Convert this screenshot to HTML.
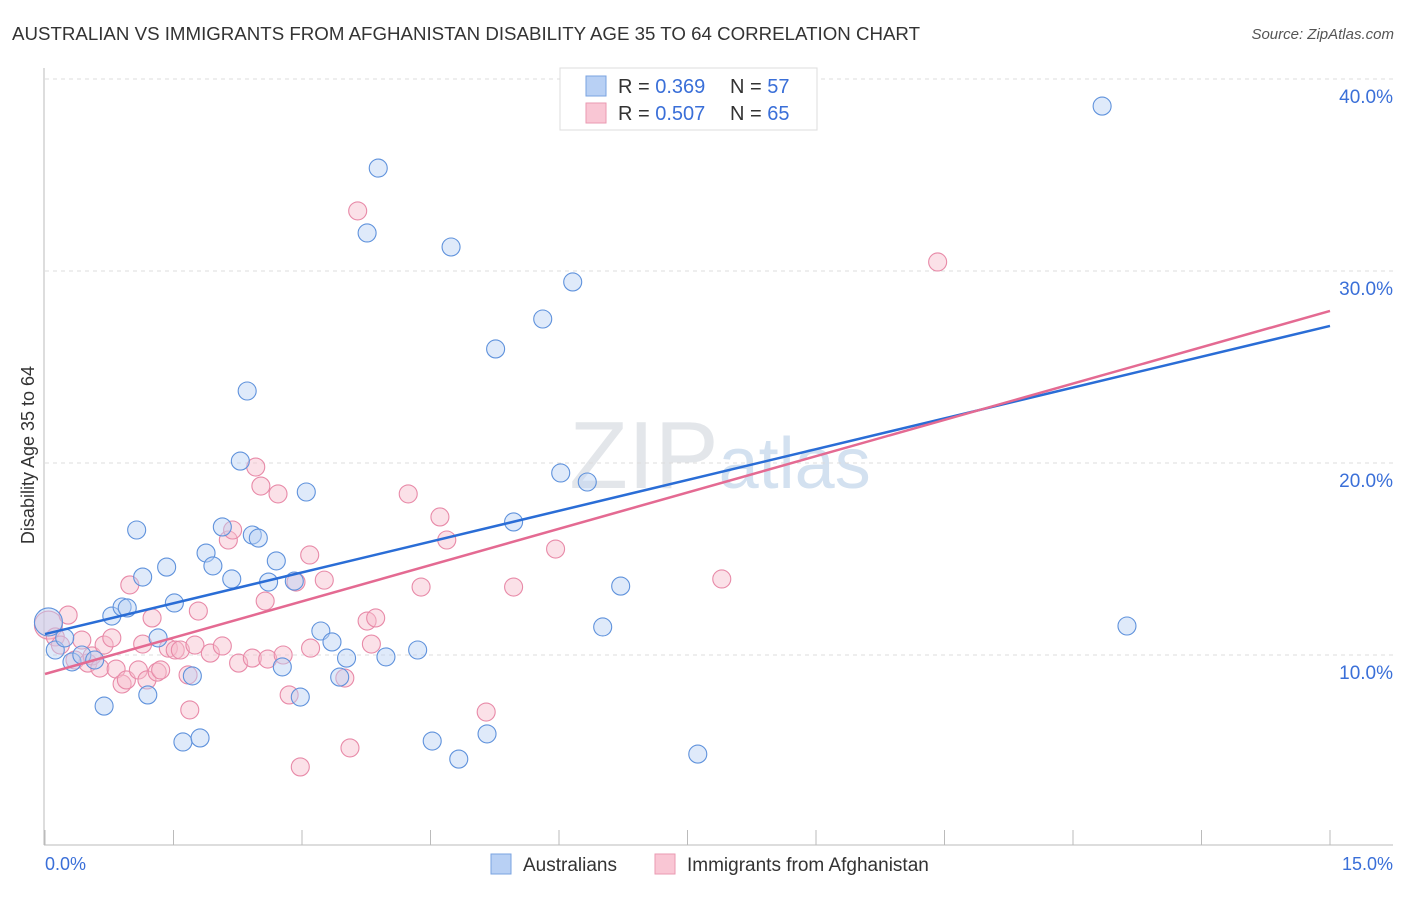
<!DOCTYPE html>
<html><head><meta charset="utf-8"><style>
body{margin:0;background:#fff;font-family:"Liberation Sans",sans-serif}
svg text{font-family:"Liberation Sans",sans-serif}
</style></head><body>
<svg id="c" width="1406" height="892">
<text x="12" y="40" font-size="18" fill="#333" textLength="908" lengthAdjust="spacingAndGlyphs">AUSTRALIAN VS IMMIGRANTS FROM AFGHANISTAN DISABILITY AGE 35 TO 64 CORRELATION CHART</text>
<text x="1394" y="39" font-size="15" fill="#555" text-anchor="end" font-style="italic">Source: ZipAtlas.com</text>
<text x="720" y="488" font-size="96" fill="#e3e6ea" text-anchor="middle" font-family="Liberation Serif">ZIP<tspan fill="#d3e1f0" font-family="Liberation Sans" font-size="72">atlas</tspan></text>
<g id="grid"></g><g id="pts"></g><g id="trend"></g>
<text transform="translate(34,455) rotate(-90)" font-size="18" fill="#333" text-anchor="middle">Disability Age 35 to 64</text>
<text x="45" y="870" font-size="18" fill="#3a6fd8">0.0%</text>
<text x="1393" y="870" font-size="18" fill="#3a6fd8" text-anchor="end">15.0%</text>
<g>
<rect x="560" y="68" width="257" height="62" fill="#fff" stroke="#ddd"/>
<rect x="586" y="76" width="20" height="20" fill="#b8d0f4" stroke="#7aa3e0"/>
<rect x="586" y="103" width="20" height="20" fill="#f9c6d4" stroke="#ea9ab2"/>
<text x="618" y="93" font-size="20" fill="#333">R = <tspan fill="#3a6fd8">0.369</tspan><tspan x="730">N = </tspan><tspan fill="#3a6fd8">57</tspan></text>
<text x="618" y="120" font-size="20" fill="#333">R = <tspan fill="#3a6fd8">0.507</tspan><tspan x="730">N = </tspan><tspan fill="#3a6fd8">65</tspan></text>
</g>
<g>
<rect x="491" y="854" width="20" height="20" fill="#b8d0f4" stroke="#7aa3e0"/>
<text x="523" y="871" font-size="19" fill="#333">Australians</text>
<rect x="655" y="854" width="20" height="20" fill="#f9c6d4" stroke="#ea9ab2"/>
<text x="687" y="871" font-size="19" fill="#333">Immigrants from Afghanistan</text>
</g>
</svg>
<script>
const yTicks=[10,20,30,40];
const yTickLabels=["10.0%","20.0%","30.0%","40.0%"];
const xTicks=[0,1.5,3,4.5,6,7.5,9,10.5,12,13.5,15];
const blueX=[0.04,0.12,0.23,0.315,0.43,0.58,0.69,0.78,0.9,0.96,1.07,1.14,1.2,1.32,1.42,1.51,1.61,1.72,1.81,1.88,1.96,2.07,2.18,2.28,2.36,2.42,2.49,2.61,2.7,2.77,2.91,2.98,3.05,3.22,3.35,3.44,3.52,3.76,3.89,3.98,4.35,4.52,4.74,4.83,5.16,5.26,5.47,5.81,6.02,6.16,6.33,6.51,6.72,7.62,12.34,12.63];
const blueY=[11.72,10.26,10.89,9.64,10,9.74,7.34,12.03,12.5,12.45,16.51,14.06,7.92,10.89,14.58,12.71,5.47,8.91,5.68,15.31,14.64,16.67,13.96,20.1,23.75,16.25,16.09,13.8,14.9,9.38,13.85,7.81,18.49,11.25,10.68,8.85,9.84,31.98,35.36,9.9,10.26,5.52,31.25,4.58,5.89,25.94,16.93,27.5,19.48,29.43,19.01,11.46,13.59,4.84,38.59,11.51];
const pinkX=[0.04,0.12,0.18,0.27,0.35,0.43,0.5,0.55,0.64,0.69,0.78,0.83,0.9,0.95,0.99,1.09,1.14,1.19,1.25,1.31,1.35,1.44,1.52,1.58,1.67,1.69,1.75,1.79,1.93,2.07,2.14,2.19,2.26,2.42,2.46,2.52,2.57,2.6,2.72,2.78,2.85,2.93,2.98,3.09,3.1,3.26,3.5,3.56,3.65,3.76,3.81,3.86,4.24,4.39,4.61,4.69,5.15,5.47,5.96,7.9,10.42];
const pinkY=[11.56,10.94,10.52,12.08,9.74,10.78,9.58,9.95,9.32,10.52,10.89,9.27,8.49,8.7,13.65,9.22,10.57,8.7,11.93,9.11,9.22,10.36,10.26,10.26,8.96,7.14,10.52,12.29,10.1,10.47,15.99,16.51,9.58,9.84,19.79,18.8,12.81,9.79,18.39,10,7.92,13.8,4.17,15.21,10.36,13.9,8.8,5.16,33.13,11.77,10.57,11.93,18.39,13.54,17.19,15.99,7.03,13.54,15.52,13.96,30.47];
const blueTrend=[11.09,27.14];
const pinkTrend=[9.01,27.92];
const NS="http://www.w3.org/2000/svg";
const X0=45,X1=1330,Y10=655,PPY=19.2;
const xs=v=>X0+v*(X1-X0)/15;
const ys=v=>Y10-(v-10)*PPY;
function mk(t,a,p){const e=document.createElementNS(NS,t);for(const k in a)e.setAttribute(k,a[k]);p.appendChild(e);return e;}
const grid=document.getElementById('grid');
yTicks.forEach((v,i)=>{
 const l=mk('line',{x1:45,x2:1393,y1:ys(v),y2:ys(v),stroke:'#dcdcdc','stroke-dasharray':'4,4'},grid);
 
 
 const t=mk('text',{x:1393,y:ys(v)+24,'font-size':19,fill:'#3a6fd8','text-anchor':'end'},grid);
 t.textContent=yTickLabels[i];
 
 
});
const ax=mk('line',{x1:44,x2:44,y1:68,y2:845,stroke:'#bbb'},grid);


const bx=mk('line',{x1:44,x2:1393,y1:845,y2:845,stroke:'#bbb'},grid);


xTicks.forEach(v=>{
 const t=mk('line',{x1:xs(v),x2:xs(v),y1:830,y2:845,stroke:'#bbb'},grid);
 
 
});
const pts=document.getElementById('pts');
function series(X,Y,fill,stroke,name){
 X.forEach((x,i)=>{
  const r=i==0?14:9;
  const c=mk('circle',{cx:xs(x),cy:ys(Y[i]),r:r,fill:fill,'fill-opacity':0.45,stroke:stroke,'stroke-width':1.1},pts);
  
  
 });
}
series(pinkX,pinkY,'#f7bccd','#e88aa8','afghanistan-point');
series(blueX,blueY,'#b8d0f4','#5f92dc','australians-point');
const tr=document.getElementById('trend');
const b=mk('line',{x1:xs(0),y1:ys(blueTrend[0]),x2:xs(15),y2:ys(blueTrend[1]),stroke:'#2a6dd6','stroke-width':2.5},tr);


const p=mk('line',{x1:xs(0),y1:ys(pinkTrend[0]),x2:xs(15),y2:ys(pinkTrend[1]),stroke:'#e46a92','stroke-width':2.5},tr);


</script>
</body></html>
